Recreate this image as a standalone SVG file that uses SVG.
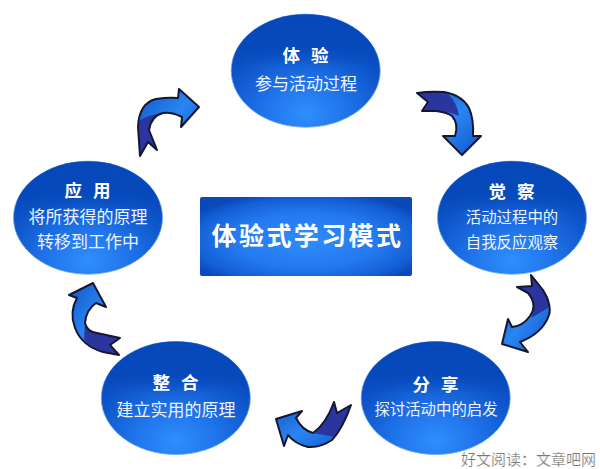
<svg xmlns="http://www.w3.org/2000/svg" width="600" height="469" viewBox="0 0 600 469">
<defs>
<radialGradient id="glow" cx="0.5" cy="0.88" r="0.68">
<stop offset="0" stop-color="#2f8ffd"/><stop offset="0.4" stop-color="#2074ea"/><stop offset="0.8" stop-color="#0f57cc"/><stop offset="1" stop-color="#0a4dc0"/>
</radialGradient>
<linearGradient id="cap" x1="0" y1="0" x2="0" y2="1">
<stop offset="0" stop-color="#0648ba" stop-opacity=".95"/><stop offset="0.3" stop-color="#0648ba" stop-opacity=".8"/><stop offset="0.46" stop-color="#0648ba" stop-opacity="0"/>
</linearGradient>
<radialGradient id="rectFill" cx="0.5" cy="0.55" r="0.62">
<stop offset="0" stop-color="#2e8dfc"/><stop offset="0.55" stop-color="#2479ee"/><stop offset="0.85" stop-color="#1460d6"/><stop offset="1" stop-color="#0a49ba"/>
</radialGradient>
<linearGradient id="arrowFill" x1="0" y1="0" x2="1" y2="1">
<stop offset="0" stop-color="#0f55c8"/><stop offset="0.5" stop-color="#2a85f2"/><stop offset="1" stop-color="#0f55c8"/>
</linearGradient>
<filter id="soft" x="-5%" y="-5%" width="110%" height="110%"><feGaussianBlur stdDeviation="0.4"/></filter>
</defs>
<style>
.oval{fill:url(#glow);stroke:#6aa4ee;stroke-width:.8}
.capo{fill:url(#cap)}
.t{font-family:"Noto Sans CJK SC","Liberation Sans",sans-serif;fill:#fff;text-anchor:middle}
.h{font-size:17.5px;font-weight:700;letter-spacing:1px}
.s{font-size:17px;fill:#eef4ff}
.n{font-size:15.4px;fill:#eef4ff}
.out{fill:none;stroke:#14182e;stroke-width:2;stroke-linejoin:round}
.blue{fill:url(#arrowFill)}
.dark{fill:#2b35a0}
</style>
<rect width="600" height="469" fill="#fff"/>
<g id="connectors" filter="url(#soft)">
<g id="arrow1"><path class="blue" d="M140 156L138 127Q139 103 156 99Q168 97 178 98L179 89L199 107L181 127L182 117Q172 112 163 113Q151 116 149 130L157 150L148 142Z"/><path class="dark" d="M138 122Q146 115 163 113Q151 116 149 130L157 150L148 142L140 156L138 127Z"/><path class="out" d="M140 156L138 127Q139 103 156 99Q168 97 178 98L179 89L199 107L181 127L182 117Q172 112 163 113Q151 116 149 130L157 150L148 142Z"/></g>
<g id="arrow2"><path class="blue" d="M417 93Q430 91 444 92Q462 95 469 108Q474 119 473 136L481 136L462 155L443 136L455 136Q459 124 452 116Q446 112 436 111L422 111L428 102Z"/><path class="dark" d="M417 93Q430 91 444 92L449 95Q457 103 459 116Q452 112 436 111L422 111L428 102Z"/><path class="out" d="M417 93Q430 91 444 92Q462 95 469 108Q474 119 473 136L481 136L462 155L443 136L455 136Q459 124 452 116Q446 112 436 111L422 111L428 102Z"/></g>
<g id="arrow3"><path class="blue" d="M531 275L543 290Q552 305 549 315Q543 333 520 342L528 352L502 344L508 319L512 327Q523 326 530 316Q538 305 528 293L517 287L532 286Z"/><path class="dark" d="M531 275L543 290Q552 300 548 308L531 318Q538 305 528 293L517 287L532 286Z"/><path class="out" d="M531 275L543 290Q552 305 549 315Q543 333 520 342L528 352L502 344L508 319L512 327Q523 326 530 316Q538 305 528 293L517 287L532 286Z"/></g>
<g id="arrow4"><path class="blue" d="M351 405Q343 428 332 440Q320 448 308 447Q295 444 288 435L284 446L276 419L302 411L296 418Q302 430 313 433Q326 424 334 402L337 413Z"/><path class="dark" d="M351 405Q343 428 335 437L313 433Q326 424 334 402L337 413Z"/><path class="out" d="M351 405Q343 428 332 440Q320 448 308 447Q295 444 288 435L284 446L276 419L302 411L296 418Q302 430 313 433Q326 424 334 402L337 413Z"/></g>
<g id="arrow5"><path class="blue" d="M93 283L106 307L96 303Q86 310 85 323Q87 332 97 333L120 338L110 345L119 355L103 352Q82 346 75 328Q69 312 77 298L69 295Z"/><path class="dark" d="M85 323Q87 332 97 333L120 338L110 345L119 355L103 352Q92 348 84 340Z"/><path class="out" d="M93 283L106 307L96 303Q86 310 85 323Q87 332 97 333L120 338L110 345L119 355L103 352Q82 346 75 328Q69 312 77 298L69 295Z"/></g>
</g>
<g id="node-center"><rect x="200" y="197" width="212" height="79" rx="2" fill="url(#rectFill)"/><text class="t" x="307.5" y="245" font-size="25" font-weight="700" letter-spacing="2.4">体验式学习模式</text></g>
<g id="node-tiyan"><ellipse class="oval" cx="305.7" cy="70.7" rx="74.5" ry="56.5"/><ellipse class="capo" cx="305.7" cy="70.7" rx="74.5" ry="56.5"/><text class="t h" x="306" y="62" xml:space="preserve">体  验</text><text class="t s" x="306" y="90">参与活动过程</text></g>
<g id="node-juecha"><ellipse class="oval" cx="512" cy="217.7" rx="74.5" ry="56.5"/><ellipse class="capo" cx="512" cy="217.7" rx="74.5" ry="56.5"/><text class="t h" x="512" y="198" xml:space="preserve">觉  察</text><text class="t n" x="512" y="223">活动过程中的</text><text class="t n" x="512" y="248">自我反应观察</text></g>
<g id="node-fenxiang"><ellipse class="oval" cx="435.7" cy="398" rx="74.5" ry="56.5"/><ellipse class="capo" cx="435.7" cy="398" rx="74.5" ry="56.5"/><text class="t h" x="436" y="391" xml:space="preserve">分  享</text><text class="t n" x="436" y="415">探讨活动中的启发</text></g>
<g id="node-zhenghe"><ellipse class="oval" cx="175.8" cy="398" rx="74.5" ry="56.5"/><ellipse class="capo" cx="175.8" cy="398" rx="74.5" ry="56.5"/><text class="t h" x="176" y="389" xml:space="preserve">整  合</text><text class="t s" x="176" y="416">建立实用的原理</text></g>
<g id="node-yingyong"><ellipse class="oval" cx="88" cy="217.7" rx="74.5" ry="56.5"/><ellipse class="capo" cx="88" cy="217.7" rx="74.5" ry="56.5"/><text class="t h" x="88" y="197" xml:space="preserve">应  用</text><text class="t s" x="88" y="223">将所获得的原理</text><text class="t s" x="88" y="248">转移到工作中</text></g>
<text id="watermark" x="461" y="465" font-size="15" font-family="Noto Sans CJK SC,Liberation Sans,sans-serif" fill="#777" stroke="#fff" stroke-width=".2">好文阅读：文章吧网</text>
</svg>
